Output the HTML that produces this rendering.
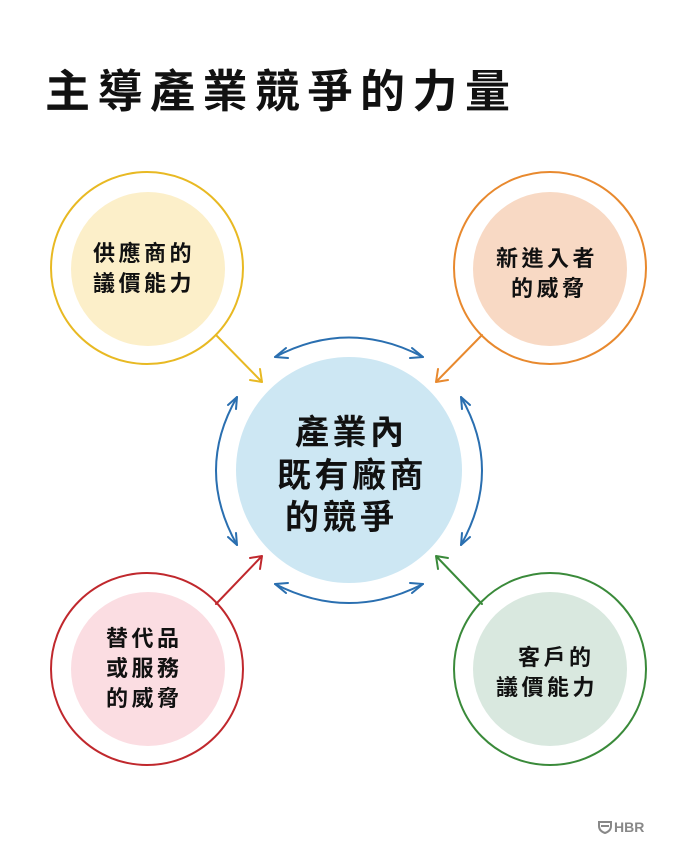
<!DOCTYPE html>
<html><head><meta charset="utf-8"><style>
html,body{margin:0;padding:0;background:#fff;}
svg{display:block}
text{font-family:"Liberation Sans","Noto Sans CJK TC",sans-serif;font-weight:bold;fill:#111;}
</style></head><body>
<svg width="700" height="855" viewBox="0 0 700 855" xmlns="http://www.w3.org/2000/svg">
<text x="45" y="107" font-size="45" letter-spacing="7.5">主導產業競爭的力量</text>

<circle cx="147" cy="268" r="96" fill="none" stroke="#e8b923" stroke-width="2"/>
<circle cx="148" cy="269" r="77" fill="#fcefc9"/>
<circle cx="550" cy="268" r="96" fill="none" stroke="#e8892e" stroke-width="2"/>
<circle cx="550" cy="269" r="77" fill="#f8d9c4"/>
<circle cx="147" cy="669" r="96" fill="none" stroke="#c0282d" stroke-width="2"/>
<circle cx="148" cy="669" r="77" fill="#fbdde2"/>
<circle cx="550" cy="669" r="96" fill="none" stroke="#3a8a3a" stroke-width="2"/>
<circle cx="550" cy="669" r="77" fill="#d9e8df"/>

<circle cx="349" cy="470" r="113" fill="#cde7f3"/>

<g fill="none" stroke-width="2" stroke-linecap="round" stroke-linejoin="round">
<path d="M216 335 L262 382 M250 380 L262 382 L260 369" stroke="#e8b923"/>
<path d="M482 335 L436 382 M448 380 L436 382 L438 369" stroke="#e8892e"/>
<path d="M216 604 L262 556 M250 558 L262 556 L260 569" stroke="#c0282d"/>
<path d="M482 604 L436 556 M448 558 L436 556 L438 569" stroke="#3a8a3a"/>
<g stroke="#2a6fb0">
<path d="M275 357 Q349 318 423 357"/>
<path d="M286 348 L275 357 L288 358 M412 348 L423 357 L410 358"/>
<path d="M275 584 Q349 622 423 584"/>
<path d="M286 593 L275 584 L288 583 M412 593 L423 584 L410 583"/>
<path d="M237 397 Q195 470 237 545"/>
<path d="M236 409 L237 397 L228 405 M236 533 L237 545 L228 537"/>
<path d="M461 397 Q503 470 461 545"/>
<path d="M462 409 L461 397 L470 405 M462 533 L461 545 L470 537"/>
</g>
</g>

<g font-size="22" letter-spacing="3.5">
<text x="93" y="261">供應商的</text>
<text x="93" y="291">議價能力</text>
<text x="496" y="266">新進入者</text>
<text x="511" y="296">的威脅</text>
<text x="106" y="646">替代品</text>
<text x="106" y="676">或服務</text>
<text x="106" y="706">的威脅</text>
<text x="518" y="665">客戶的</text>
<text x="496" y="695">議價能力</text>
</g>
<g font-size="34" letter-spacing="3.5">
<text x="295" y="444">產業內</text>
<text x="277" y="487">既有廠商</text>
<text x="285" y="529">的競爭</text>
</g>

<path d="M599 822 h12 v4 q0 5 -6 7 q-6 -2 -6 -7 z M601 826 h8" fill="none" stroke="#888" stroke-width="2"/>
<text x="614" y="832" font-size="14" style="fill:#888">HBR</text>
</svg>
</body></html>
